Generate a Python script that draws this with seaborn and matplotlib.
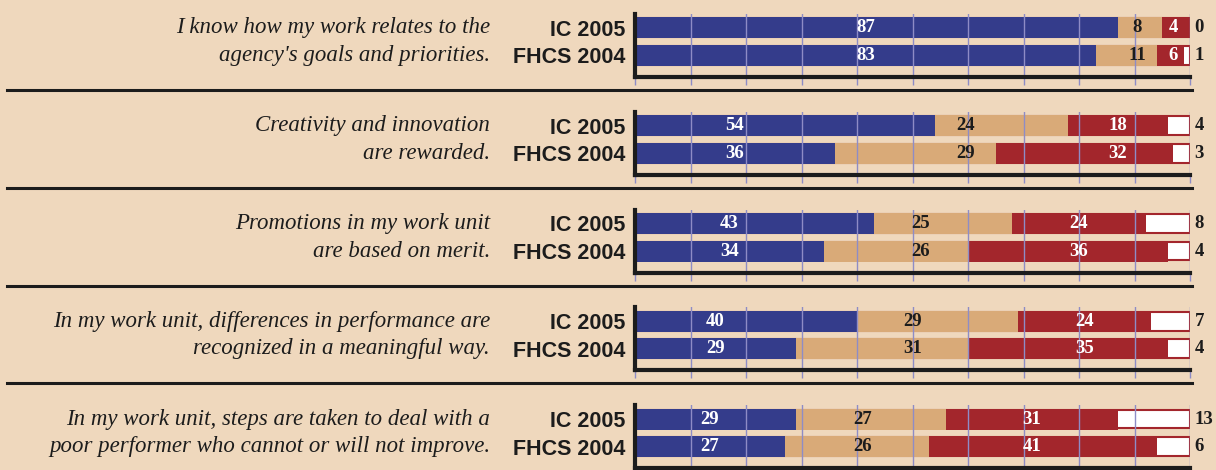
import matplotlib
matplotlib.use("Agg")
import matplotlib.pyplot as plt
import matplotlib.transforms as mtransforms
from matplotlib import font_manager
from matplotlib.lines import Line2D
import pandas as pd
import seaborn as sns

questions = [
    ("I know how my work relates to the", "agency's goals and priorities."),
    ("Creativity and innovation", "are rewarded."),
    ("Promotions in my work unit", "are based on merit."),
    ("In my work unit, differences in performance are", "recognized in a meaningful way."),
    ("In my work unit, steps are taken to deal with a", "poor performer who cannot or will not improve."),
]
surveys = ["IC 2005", "FHCS 2004"]

# percent per question, as [IC 2005, FHCS 2004]
agree = [[87, 83], [54, 36], [43, 34], [40, 29], [29, 27]]
neutral = [[8, 11], [24, 29], [25, 26], [29, 31], [27, 26]]
disagree = [[4, 6], [18, 32], [24, 36], [24, 35], [31, 41]]
dont_know = [[0, 1], [4, 3], [8, 4], [7, 4], [13, 6]]

BG = "#EFD8BD"
BLUE = "#343C8B"
TAN = "#D9AA78"
RED = "#A3262C"
GRID = "#8E8CC6"
INK = "#1c1c1c"

W, H = 1216, 470

installed = {f.name for f in font_manager.fontManager.ttflist}
if "Liberation Sans Narrow" in installed:
    label_font, label_size = "Liberation Sans Narrow", 18.5
else:
    label_font, label_size = "Liberation Sans", 15.5

fig = plt.figure(figsize=(W / 100, H / 100), dpi=100, facecolor=BG)

num_style = dict(family="Liberation Serif", weight="bold", fontsize=13.5,
                 ha="center", va="center")

for i, (q1, q2) in enumerate(questions):
    top = 14 + 97.8 * i
    ax = fig.add_axes([635 / W, 1 - (top + 63) / H, 555 / W, 63 / H])
    ax.set_facecolor("none")

    df = pd.DataFrame({
        "survey": surveys,
        "agree": agree[i],
        "neutral": neutral[i],
        "disagree": disagree[i],
        "dont_know": dont_know[i],
    })
    df["tan_end"] = df["agree"] + df["neutral"]
    df["red_end"] = 100 - df["dont_know"]
    df["full"] = 100

    # stack by overdrawing, back to front; the white "don't know" box sits
    # at the right end with a red outline
    sns.barplot(data=df, x="full", y="survey", orient="h", color="white",
                saturation=1, width=0.68, errorbar=None, edgecolor=RED,
                linewidth=1.5, ax=ax)
    for col, c in [("red_end", RED), ("tan_end", TAN), ("agree", BLUE)]:
        sns.barplot(data=df, x=col, y="survey", orient="h", color=c,
                    saturation=1, width=0.76, errorbar=None, linewidth=0, ax=ax)

    # value labels, aligned in columns across the two bars
    segs = []
    for k in range(2):
        a, n = agree[i][k], neutral[i][k]
        segs.append([(0, a), (a, a + n), (a + n, 100 - dont_know[i][k])])
    for s, (vals, color) in enumerate([(agree[i], "white"), (neutral[i], INK),
                                       (disagree[i], "white")]):
        lo = max(segs[0][s][0], segs[1][s][0])
        hi = min(segs[0][s][1], segs[1][s][1])
        for k in range(2):
            xc = (lo + hi) / 2 if hi > lo else sum(segs[k][s]) / 2
            ax.text(xc, k, str(vals[k]), color=color, **num_style)
    for k in range(2):
        ax.text(100.8, k, str(dont_know[i][k]), color=INK, clip_on=False,
                **{**num_style, "ha": "left"})

    ax.set_xlim(0, 100)
    ax.set_ylim(1.78, -0.5)
    ax.set_xticks(range(0, 101, 10))
    ax.grid(axis="x", color=GRID, linewidth=1)
    ax.grid(axis="y", visible=False)
    ax.set_axisbelow(False)
    ax.tick_params(axis="x", direction="out", length=6, color=GRID, width=1,
                   labelbottom=False)
    ax.tick_params(axis="y", length=0, pad=7)
    ax.set_yticks([0, 1])
    ax.set_yticklabels(surveys, family=label_font, weight="bold",
                       fontsize=label_size, color=INK)
    ax.set_xlabel("")
    ax.set_ylabel("")
    for side in ["top", "right"]:
        ax.spines[side].set_visible(False)
    for side in ["left", "bottom"]:
        ax.spines[side].set_linewidth(3)
        ax.spines[side].set_color(INK)
        ax.spines[side].set_zorder(4)

    tr = mtransforms.blended_transform_factory(fig.transFigure, ax.transData)
    for k, line in enumerate([q1, q2]):
        ax.text(490 / W, k, line, transform=tr, ha="right", va="center",
                family="Liberation Serif", style="italic", fontsize=16.5,
                color=INK, clip_on=False)

    if i < len(questions) - 1:
        y = 1 - (top + 76) / H
        fig.add_artist(Line2D([7 / W, 1192 / W], [y, y], color=INK, lw=2.2))

fig.savefig("out.png", dpi=100, facecolor=BG)
